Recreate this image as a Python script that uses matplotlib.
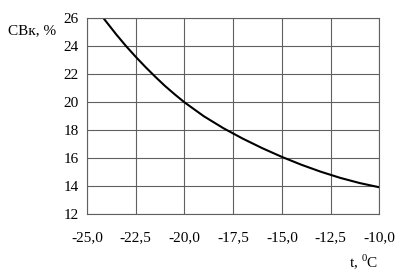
import matplotlib
matplotlib.use('Agg')
import matplotlib.pyplot as plt

# values
t = [-24.15, -23.5, -23.0, -22.5, -22.0, -21.5, -21.0, -20.5, -20.0, -19.0, -18.0,
     -17.0, -16.0, -15.0, -14.0, -13.0, -12.0, -11.0, -10.0]
svk = [26.0, 24.85, 24.02, 23.25, 22.52, 21.83, 21.17, 20.57, 20.0, 19.0, 18.15,
       17.4, 16.72, 16.1, 15.54, 15.04, 14.6, 14.23, 13.93]
x_ticks = [-25.0, -22.5, -20.0, -17.5, -15.0, -12.5, -10.0]
x_labels = ['-25,0', '-22,5', '-20,0', '-17,5', '-15,0', '-12,5', '-10,0']
y_ticks = [12, 14, 16, 18, 20, 22, 24, 26]

plt.rcParams['font.family'] = ['Liberation Serif', 'DejaVu Serif']
plt.rcParams['font.size'] = 11

fig = plt.figure(figsize=(4.01, 2.74), dpi=100)
ax = fig.add_axes([87 / 401, 1 - 214.3 / 274, (379.3 - 87) / 401, (214.3 - 18.3) / 274])

ax.plot(t, svk, color='black', lw=1.5, solid_joinstyle='round')
ax.set_xlim(-25, -10)
ax.set_ylim(12, 26)
ax.set_xticks(x_ticks)
ax.set_xticklabels(x_labels)
ax.set_yticks(y_ticks)
ax.grid(True, color='#606060', lw=0.8)
ax.tick_params(length=0, pad=12)
ax.tick_params(axis='y', pad=6)
for s in ax.spines.values():
    s.set_color('#606060')
    s.set_linewidth(0.8)

fig.text(8 / 401, 1 - 31 / 274, 'СВк, %', ha='left', va='center')
fig.text(378 / 401, 1 - 262 / 274, r't, $^{\mathregular{0}}$C', ha='right', va='center')

fig.savefig('out.png', dpi=100)
